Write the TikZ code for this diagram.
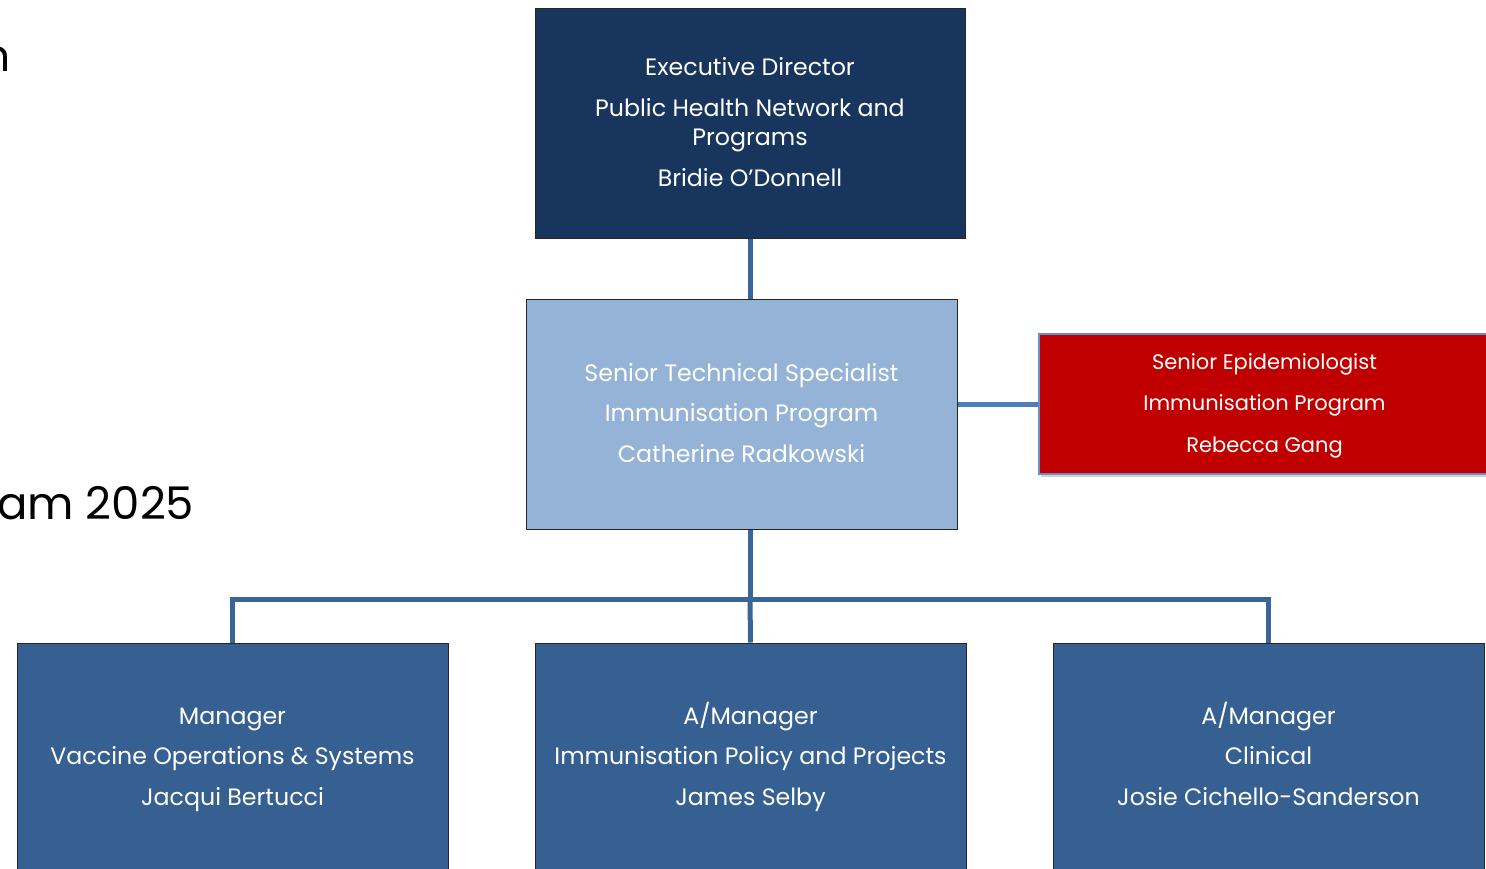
\documentclass[tikz,border=0pt]{standalone}
\usepackage{fontspec}
\setmainfont{Poppins}
\usetikzlibrary{shadows}
\definecolor{navy}{HTML}{18365D}
\definecolor{lightb}{HTML}{95B3D7}
\definecolor{redbox}{HTML}{C00000}
\definecolor{midb}{HTML}{366092}
\definecolor{conn}{HTML}{3A6598}
\definecolor{connlight}{HTML}{4A7EBB}
\definecolor{redborder}{HTML}{6A8FC4}
\newcommand{\topstrut}{\rule{0pt}{24.5pt}}
\newcommand{\redtopstrut}{\rule{0pt}{21pt}}
\tikzset{
  orgbox/.style={draw=black!85, line width=1pt, text=white, align=center,
    inner sep=0pt, font=\fontsize{23.7}{29}\selectfont},
  redstyle/.style={draw=redborder, line width=2pt, fill=redbox, text=white, align=center,
    inner sep=0pt, font=\fontsize{21}{24}\selectfont,
    drop shadow={opacity=0.35, shadow xshift=2pt, shadow yshift=-3pt}},
  link/.style={conn, line width=5pt},
  linklight/.style={connlight, line width=5pt},
  title/.style={text=black, inner sep=0pt, anchor=base west}
}
\begin{document}
\begin{tikzpicture}[x=1pt,y=-1pt]
\useasboundingbox (0,0) rectangle (1486,868);
% title fragments
\node[title, font=\fontsize{44}{50}\selectfont] (t1) at (-18,71) {n};
\node[title, font=\fontsize{45}{52}\selectfont] (t2) at (-3,519) {am 2025};
% boxes
\node[orgbox, fill=navy, minimum width=430pt, minimum height=230pt] (top) at (750,123)
  {\topstrut Executive Director\\[12pt]\strut Public Health Network and\\\strut Programs\\[12pt]\strut Bridie O’Donnell};
\node[orgbox, fill=lightb, minimum width=431pt, minimum height=230pt] (mid) at (741.5,414)
  {\topstrut Senior Technical Specialist\\[11.5pt]\strut Immunisation Program\\[11.5pt]\strut Catherine Radkowski};
\node[redstyle, minimum width=451pt, minimum height=140pt] (red) at (1264.5,404)
  {\redtopstrut Senior Epidemiologist\\[17.5pt]\strut Immunisation Program\\[17.5pt]\strut Rebecca Gang};
\node[orgbox, fill=midb, minimum width=431pt, minimum height=228pt] (b1) at (232.5,757)
  {\topstrut Manager\\[11.5pt]\strut Vaccine Operations \& Systems\\[11.5pt]\strut Jacqui Bertucci};
\node[orgbox, fill=midb, minimum width=431pt, minimum height=228pt] (b2) at (750.5,757)
  {\topstrut A/Manager\\[11.5pt]\strut Immunisation Policy and Projects\\[11.5pt]\strut James Selby};
\node[orgbox, fill=midb, minimum width=431pt, minimum height=228pt] (b3) at (1268.5,757)
  {\topstrut A/Manager\\[11.5pt]\strut Clinical\\[11.5pt]\strut Josie Cichello-Sanderson};
% connectors
\coordinate (junction) at (750,599);
\draw[link] (top.south) -- (top.south |- mid.north);
\draw[linklight] (mid.east |- red.west) -- (red.west);
\draw[link] (junction |- mid.south) -- (junction);
\draw[link] (junction) -- (b2.north);
\draw[link, line join=miter] (b1.north) -- (b1.north |- junction) -- (b3.north |- junction) -- (b3.north);
\end{tikzpicture}
\end{document}
